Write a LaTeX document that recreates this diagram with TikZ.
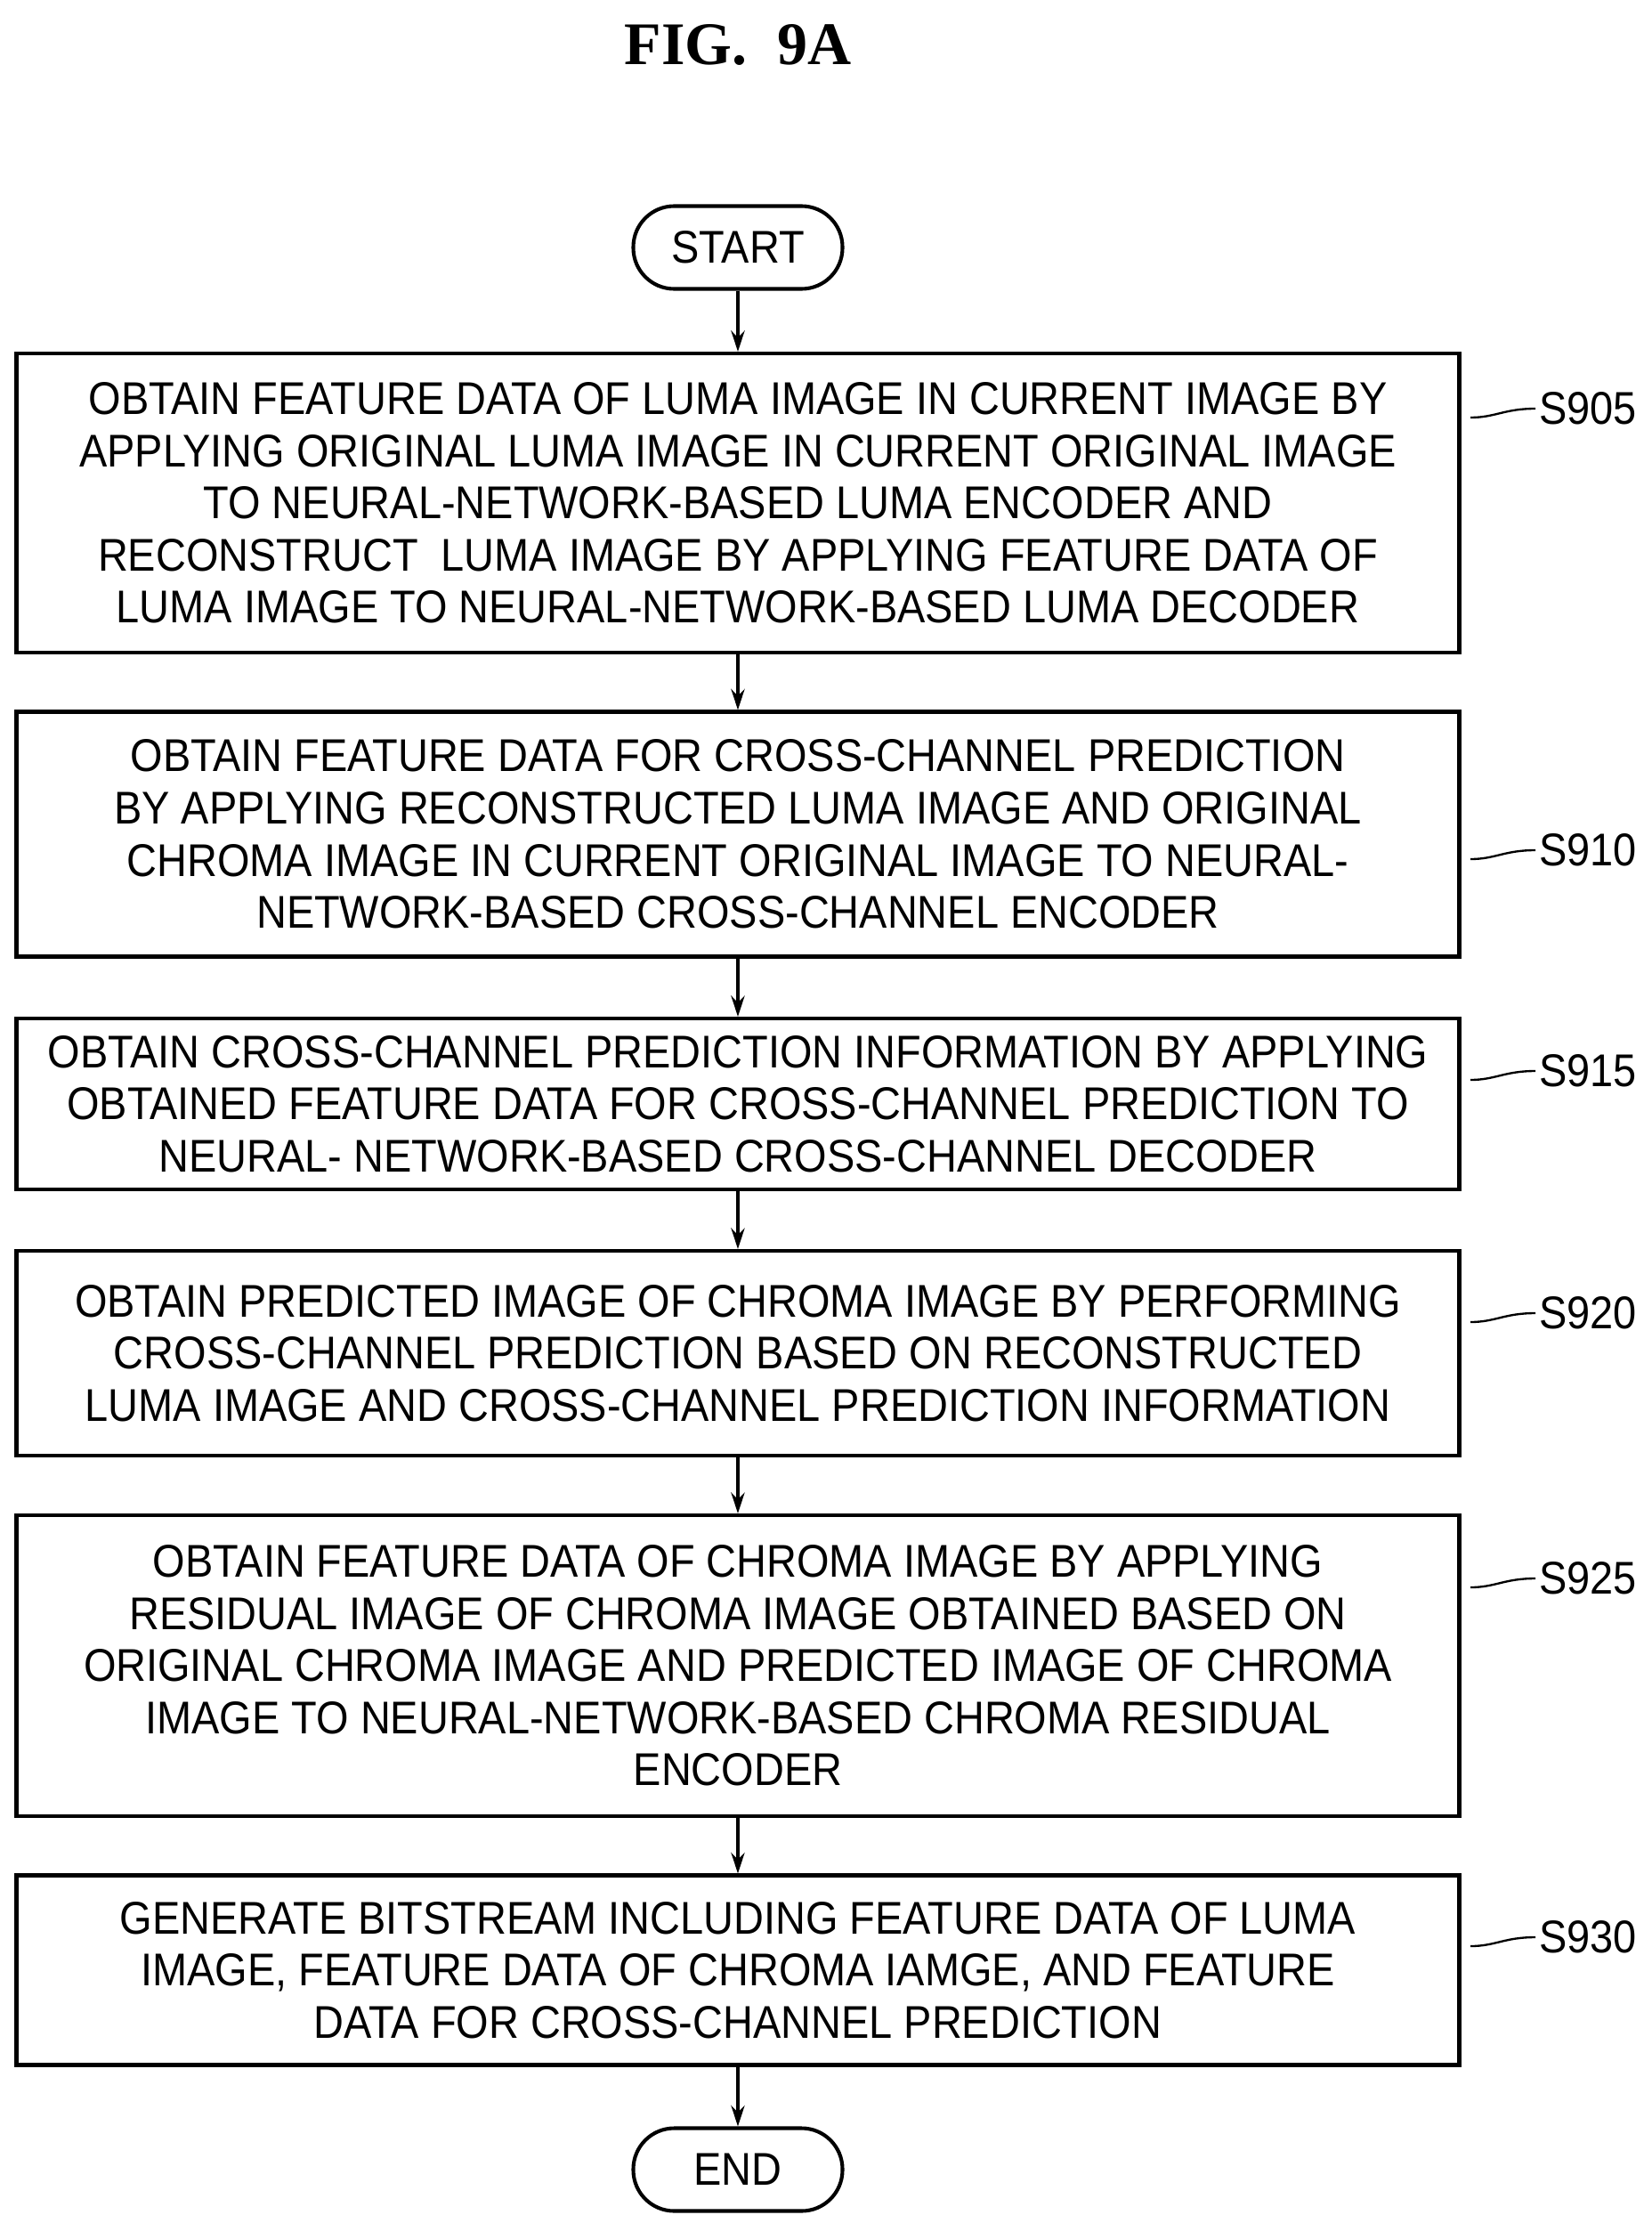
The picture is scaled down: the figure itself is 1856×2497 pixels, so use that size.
\documentclass[tikz,border=0pt]{standalone}
\usepackage{fontspec}
\setmainfont{Liberation Sans}[FakeStretch=0.91]
\newfontfamily\titlefont{Liberation Serif}
\usetikzlibrary{arrows.meta}
\begin{document}
\begin{tikzpicture}[x=0.03cm,y=-0.03cm,
  box/.style={draw,line width=3.5pt,minimum width=1621*0.03cm,align=center,inner sep=0pt,font=\fontsize{44}{50}\selectfont},
  term/.style={draw,line width=3.5pt,rounded corners=46*0.03cm,minimum width=235*0.03cm,minimum height=93*0.03cm,font=\fontsize{44}{50}\selectfont},
  lab/.style={font=\fontsize{44}{50}\selectfont,anchor=west},
  arr/.style={line width=3pt,-{Stealth[length=20pt,width=13pt]}},
  lead/.style={line width=2pt}]
\useasboundingbox (0,0) rectangle (1856,2497);
\node[font=\titlefont\bfseries\fontsize{58}{60}\selectfont] (title) at (829,50) {FIG.\ \ 9A};
\node[term] (start) at (829,278) {START};
\node[box,minimum height=336*0.03cm] (b1) at (829,565) {OBTAIN FEATURE DATA OF LUMA IMAGE IN CURRENT IMAGE BY\\APPLYING ORIGINAL LUMA IMAGE IN CURRENT ORIGINAL IMAGE\\TO NEURAL-NETWORK-BASED LUMA ENCODER AND\\RECONSTRUCT\ \ LUMA IMAGE BY APPLYING FEATURE DATA OF\\LUMA IMAGE TO NEURAL-NETWORK-BASED LUMA DECODER};
\node[box,minimum height=275*0.03cm] (b2) at (829,937) {OBTAIN FEATURE DATA FOR CROSS-CHANNEL PREDICTION\\BY APPLYING RECONSTRUCTED LUMA IMAGE AND ORIGINAL\\CHROMA IMAGE IN CURRENT ORIGINAL IMAGE TO NEURAL-\\NETWORK-BASED CROSS-CHANNEL ENCODER};
\node[box,minimum height=192*0.03cm] (b3) at (829,1240) {OBTAIN CROSS-CHANNEL PREDICTION INFORMATION BY APPLYING\\OBTAINED FEATURE DATA FOR CROSS-CHANNEL PREDICTION TO\\NEURAL- NETWORK-BASED CROSS-CHANNEL DECODER};
\node[box,minimum height=230*0.03cm] (b4) at (829,1520) {OBTAIN PREDICTED IMAGE OF CHROMA IMAGE BY PERFORMING\\CROSS-CHANNEL PREDICTION BASED ON RECONSTRUCTED\\LUMA IMAGE AND CROSS-CHANNEL PREDICTION INFORMATION};
\node[box,minimum height=338*0.03cm] (b5) at (829,1871) {OBTAIN FEATURE DATA OF CHROMA IMAGE BY APPLYING\\RESIDUAL IMAGE OF CHROMA IMAGE OBTAINED BASED ON\\ORIGINAL CHROMA IMAGE AND PREDICTED IMAGE OF CHROMA\\IMAGE TO NEURAL-NETWORK-BASED CHROMA RESIDUAL\\ENCODER};
\node[box,minimum height=213*0.03cm] (b6) at (829,2213) {GENERATE BITSTREAM INCLUDING FEATURE DATA OF LUMA\\IMAGE, FEATURE DATA OF CHROMA IAMGE, AND FEATURE\\DATA FOR CROSS-CHANNEL PREDICTION};
\node[term] (end) at (829,2437) {END};
\draw[arr] (start) -- (b1);
\draw[arr] (b1) -- (b2);
\draw[arr] (b2) -- (b3);
\draw[arr] (b3) -- (b4);
\draw[arr] (b4) -- (b5);
\draw[arr] (b5) -- (b6);
\draw[arr] (b6) -- (end);
\foreach \n/\y/\t in {l1/459/S905,l2/955/S910,l3/1203/S915,l4/1475/S920,l5/1773/S925,l6/2176/S930}{
  \node[lab] (\n) at (1725,\y) {\t};
  \coordinate (\n s) at (1652,\y+10);
  \draw[lead] (\n s) .. controls (1680,\y+10) and (1690,\y) .. (\n.west);
}
\end{tikzpicture}
\end{document}
